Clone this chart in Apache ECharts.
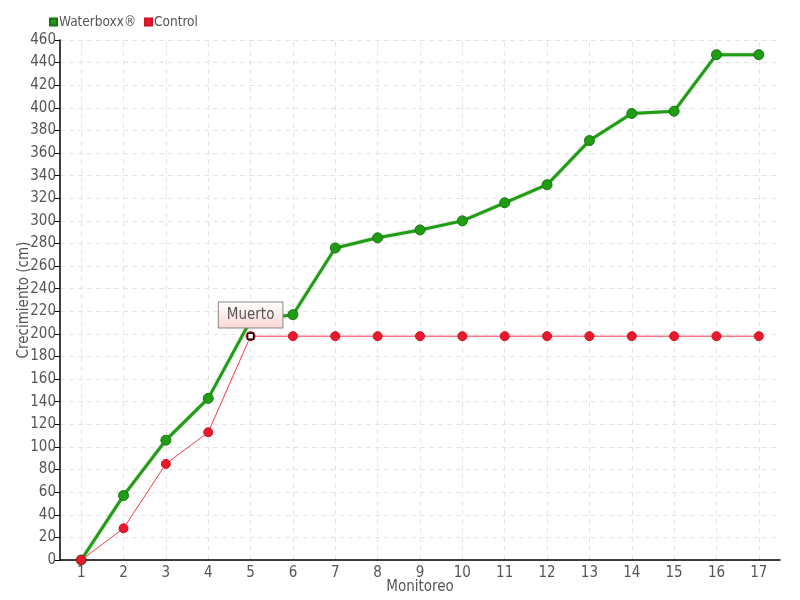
<!DOCTYPE html>
<html>
<head>
<meta charset="utf-8">
<script src="https://cdn.jsdelivr.net/npm/echarts@6/dist/echarts.min.js"></script>
<style>
  html, body { margin: 0; padding: 0; background: #fff; }
  #chart { width: 800px; height: 600px; }
</style>
</head>
<body>
<div id="chart"></div>
<script>
const monitoreo = ["1", "2", "3", "4", "5", "6", "7", "8", "9", "10", "11", "12", "13", "14", "15", "16", "17"]
const waterboxx = [0, 57, 106, 143, 212, 217, 276, 285, 292, 300, 316, 332, 371, 395, 397, 447, 447]
const control = [0, 28, 85, 113, 198, 198, 198, 198, 198, 198, 198, 198, 198, 198, 198, 198, 198]
const nota = { x: "5", y: 198, texto: "Muerto" }

const fuente = "'Liberation Sans Narrow', 'DejaVu Sans Condensed', sans-serif"
const gris = "#555"
const rejilla = "#e4e4e4"

let chart = echarts.init(document.getElementById("chart"))

chart.setOption({
  animation: false,
  textStyle: { fontFamily: fuente },
  grid: {
    left: 60,
    right: 20,
    top: 40,
    bottom: 40,
    outerBoundsMode: "none"
  },
  legend: {
    left: 44,
    top: 10,
    itemWidth: 7,
    itemHeight: 7,
    itemGap: 8,
    icon: "rect",
    textStyle: { color: gris, fontSize: 13.5, fontFamily: fuente, padding: [0, 0, 0, -3] },
    data: ["Waterboxx®", "Control"]
  },
  xAxis: {
    type: "category",
    data: monitoreo,
    boundaryGap: true,
    name: "Monitoreo",
    nameLocation: "middle",
    nameGap: 20,
    nameMoveOverlap: false,
    nameTextStyle: { color: gris, fontSize: 15 },
    axisLine: { lineStyle: { color: "#000", width: 1.5 } },
    axisTick: { alignWithLabel: true, length: 5, lineStyle: { color: "#000" } },
    axisLabel: { color: gris, fontSize: 15, margin: 6 },
    splitLine: { show: false },
    z: 3
  },
  yAxis: {
    type: "value",
    min: 0,
    max: 460,
    interval: 20,
    name: "Crecimiento (cm)",
    nameLocation: "middle",
    nameGap: 28,
    nameMoveOverlap: false,
    nameTextStyle: { color: gris, fontSize: 15 },
    axisLine: { show: true, lineStyle: { color: "#000", width: 1.5 } },
    axisTick: { show: true, length: 5, lineStyle: { color: "#000" } },
    axisLabel: { color: gris, fontSize: 15, margin: 4 },
    splitLine: { lineStyle: { color: rejilla, type: [5, 4] } }
  },
  series: [
    {
      name: "Waterboxx®",
      type: "line",
      data: waterboxx,
      color: "#1f9e14",
      symbol: "circle",
      symbolSize: 10,
      lineStyle: { width: 3, color: "#1f9e14", shadowColor: "rgba(0,80,0,0.35)", shadowBlur: 2 },
      itemStyle: { color: "#1f9e14", borderColor: "#177510", borderWidth: 1 },
      z: 2,
      // rejilla vertical en cada monitoreo
      markLine: {
        silent: true,
        symbol: "none",
        label: { show: false },
        lineStyle: { color: rejilla, type: [5, 4], width: 1 },
        emphasis: { disabled: true },
        data: monitoreo.map((m) => ({ xAxis: m })),
        z: 0
      }
    },
    {
      name: "Control",
      type: "line",
      data: control,
      color: "#e8192c",
      symbol: "circle",
      symbolSize: 9,
      lineStyle: { width: 1, color: "#f03a4a" },
      itemStyle: { color: "#e8192c", borderColor: "#d01020", borderWidth: 1 },
      z: 3,
      markPoint: {
        symbol: "rect",
        symbolSize: 6,
        itemStyle: { color: "#fff", borderColor: "#000", borderWidth: 1.5 },
        label: {
          show: true,
          position: "top",
          distance: 5,
          formatter: nota.texto,
          color: gris,
          fontSize: 15,
          padding: [5, 8, 5, 8],
          borderColor: "#888",
          borderWidth: 1,
          backgroundColor: {
            type: "linear", x: 0, y: 0, x2: 0, y2: 1,
            colorStops: [{ offset: 0, color: "#ffffff" }, { offset: 1, color: "#fcd6d6" }]
          }
        },
        data: [{ coord: [nota.x, nota.y] }],
        z: 10
      }
    }
  ]
})
</script>
</body>
</html>
